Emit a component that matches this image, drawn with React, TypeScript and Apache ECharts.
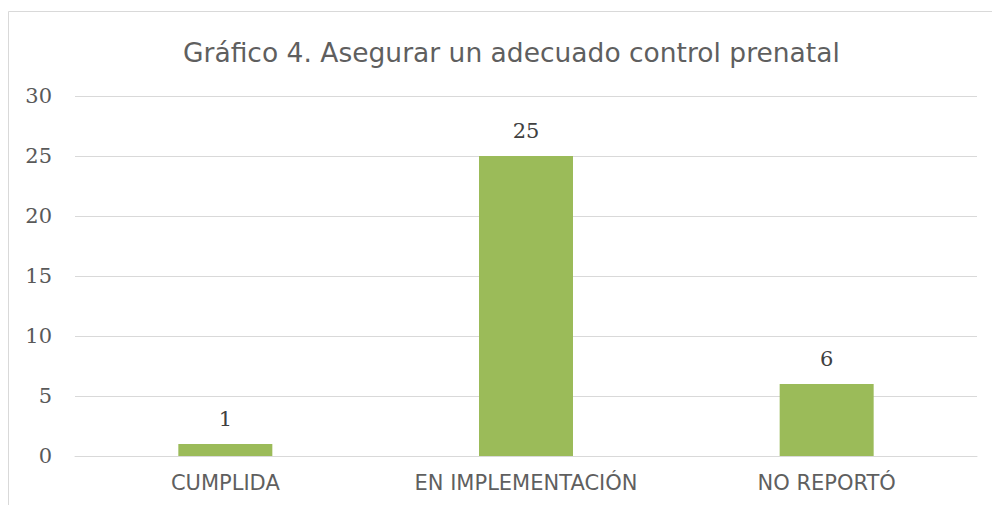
import React, { useEffect, useRef } from "react";
import * as echarts from "echarts";

const titleText = "Gráfico 4. Asegurar un adecuado control prenatal";
const categories = ["CUMPLIDA", "EN IMPLEMENTACIÓN", "NO REPORTÓ"];
const values = [1, 25, 6];

export default function App() {
  const ref = useRef<HTMLDivElement>(null);
  useEffect(() => {
    if (!ref.current) return;
    const chart = echarts.init(ref.current, null, { renderer: "svg" });
    chart.setOption({
      animation: false,
      backgroundColor: "#ffffff",
      title: {
        text: titleText,
        left: 178,
        top: 34,
        textStyle: {
          fontFamily: "DejaVu Sans",
          fontSize: 26.5,
          fontWeight: "normal",
          color: "#5f5f5f",
        },
      },
      graphic: [
        {
          type: "rect",
          shape: { x: 8.5, y: 11.5, width: 1000, height: 600 },
          style: { fill: "none", stroke: "#d9d9d9", lineWidth: 1 },
          silent: true,
          z: -10,
        },
      ],
      grid: { left: 75, right: 15, top: 96, bottom: 49 },
      xAxis: {
        type: "category",
        data: categories,
        axisLine: { show: true, lineStyle: { color: "#d9d9d9", width: 1 } },
        axisTick: { show: false },
        axisLabel: {
          margin: 16,
          fontFamily: "DejaVu Sans",
          fontSize: 21,
          color: "#5f5f5f",
        },
      },
      yAxis: {
        type: "value",
        min: 0,
        max: 30,
        interval: 5,
        axisLine: { show: false },
        axisTick: { show: false },
        splitLine: { lineStyle: { color: "#d9d9d9", width: 1 } },
        axisLabel: {
          margin: 23,
          fontFamily: "DejaVu Serif",
          fontSize: 21,
          color: "#595959",
        },
      },
      series: [
        {
          type: "bar",
          data: values,
          barWidth: 94,
          itemStyle: { color: "#9bbb59" },
          label: {
            show: true,
            position: "top",
            distance: 15,
            fontFamily: "DejaVu Serif",
            fontSize: 21,
            color: "#404040",
          },
        },
      ],
    });
    return () => chart.dispose();
  }, []);
  return (
    <div
      ref={ref}
      style={{ position: "fixed", left: 0, top: 0, width: 992, height: 505 }}
    />
  );
}
